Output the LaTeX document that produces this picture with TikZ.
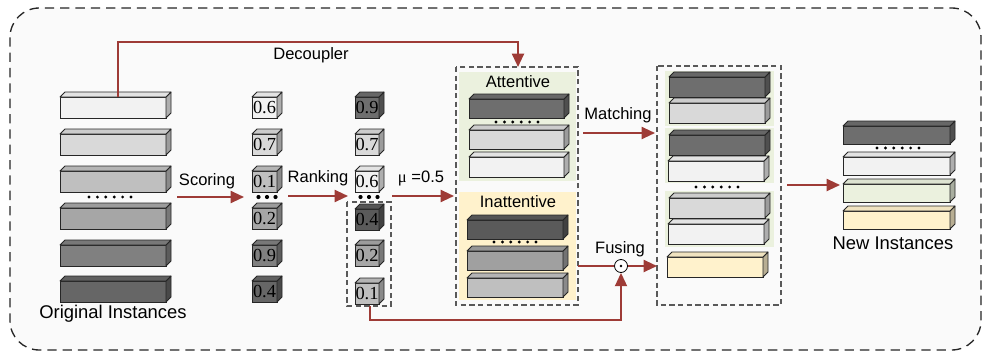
\documentclass[tikz,border=0pt]{standalone}
\usepackage{fontspec}
\setmainfont{Liberation Sans}
\newfontfamily\numfont{Liberation Serif}
\usetikzlibrary{arrows.meta}
\definecolor{arr}{RGB}{158,59,54}
\definecolor{gA}{HTML}{F2F2F2}
\definecolor{gB}{HTML}{D9D9D9}
\definecolor{gC}{HTML}{BFBFBF}
\definecolor{gD}{HTML}{A6A6A6}
\definecolor{gE}{HTML}{808080}
\definecolor{gF}{HTML}{666666}
\definecolor{gG}{HTML}{6E6E6E}
\definecolor{gH}{HTML}{5A5A5A}
\definecolor{gI}{HTML}{A0A0A0}
\definecolor{grn}{HTML}{EBF1DE}
\definecolor{ylw}{HTML}{FFF2CC}
\definecolor{bgc}{HTML}{FAFAFA}
\tikzset{
  slabst/.style={draw=black!85, line width=0.6pt, inner sep=0pt, outer sep=0pt, anchor=north west},
  face/.style={draw=black!85, line width=0.6pt, line join=round},
  flow/.style={draw=arr, line width=1.5pt, -{Triangle[length=10pt,width=9pt]}},
  plain/.style={draw=arr, line width=1.5pt},
  lbl/.style={font=\fontsize{12.4}{14}\selectfont, inner sep=0pt},
  biglbl/.style={font=\fontsize{13.8}{16}\selectfont, inner sep=0pt},
  grpbox/.style={draw=black!65, dash pattern=on 4pt off 2.5pt, line width=0.8pt},
  dotst/.style={fill=black},
}
% name, x, y, w, h, color, text
\newcommand\slab[7]{%
  \node[slabst, fill=#6, minimum width=#4*0.75pt, minimum height=#5*0.75pt,
        font=\numfont\fontsize{13.8}{14}\selectfont] (#1) at (#2,#3) {#7};
  \filldraw[face, fill=#6!72!black] (#1.north east) -- ++(5,-5) -- ++(0,#5) -- ++(-5,5) -- cycle;
  \filldraw[face, fill=#6!94!black] (#1.north west) -- ++(5,-5) -- ++(#4,0) -- (#1.north east) -- cycle;
}
% six small dots centred at x, y
\newcommand\sixdots[2]{%
  \foreach \k in {-2.5,-1.5,-0.5,0.5,1.5,2.5} {\fill[dotst] (#1+\k*8.4,#2) circle (1.6);}
}
\newcommand\threedots[2]{%
  \foreach \k in {-1,0,1} {\fill[dotst] (#1+\k*8.5,#2) circle (2.1);}
}
\begin{document}
\begin{tikzpicture}[x=0.75pt,y=-0.75pt]
\useasboundingbox (0,0) rectangle (984,353);
% outer frame
\draw[fill=bgc, draw=black!85, line width=1pt, dash pattern=on 7pt off 4.5pt, rounded corners=22pt]
  (10,8) rectangle (981,350);

% original instances
\slab{o1}{60}{97}{106}{21}{gA}{}
\slab{o2}{60}{134}{106}{21}{gB}{}
\slab{o3}{60}{171}{106}{21}{gC}{}
\slab{o4}{60}{208}{106}{21}{gD}{}
\slab{o5}{60}{245}{106}{21}{gE}{}
\slab{o6}{60}{281}{106}{21}{gF}{}
\sixdots{110}{197}
\node[biglbl] (origlbl) at (113,314) {Original Instances};

% scores column 1
\slab{s1}{252}{97}{25}{21}{gA}{0.6}
\slab{s2}{252}{134}{25}{21}{gB}{0.7}
\slab{s3}{252}{171}{25}{21}{gC}{0.1}
\slab{s4}{252}{208}{25}{21}{gD}{0.2}
\slab{s5}{252}{245}{25}{21}{gE}{0.9}
\slab{s6}{252}{281}{25}{21}{gF}{0.4}
\threedots{267}{197}

% scores column 2 (ranked)
\slab{r1}{355}{97}{24}{21}{gG}{0.9}
\slab{r2}{355}{134}{24}{21}{gB}{0.7}
\slab{r3}{355}{171}{24}{21}{gA}{0.6}
\slab{r4}{355}{209}{24}{21}{gH}{0.4}
\slab{r5}{355}{245}{24}{21}{gD}{0.2}
\slab{r6}{355}{283}{24}{21}{gC}{0.1}
\threedots{369}{197}
\draw[grpbox] (347,202) rectangle (391,306);
\coordinate (lowgrp) at (370,306);

% attentive / inattentive group
\draw[grpbox] (456,67) rectangle (578,305);
\coordinate (attTop) at (518,67);
\fill[grn] (459,72) rectangle (576,181);
\fill[ylw] (459,192) rectangle (576,300);
\node[lbl] (attlbl) at (518,82) {Attentive};
\slab{a1}{469}{99}{95}{19}{gG}{}
\sixdots{517}{122}
\slab{a2}{469}{130}{95}{19}{gB}{}
\slab{a3}{469}{157}{95}{20}{gA}{}
\node[lbl] (inattlbl) at (518,202) {Inattentive};
\slab{i1}{467}{220}{96}{19}{gH}{}
\sixdots{515}{242}
\slab{i2}{467}{251}{96}{19}{gI}{}
\slab{i3}{467}{278}{96}{19}{gC}{}

% matched group
\draw[grpbox] (657,66) rectangle (781,305);
\fill[grn] (665,71) rectangle (774,126);
\fill[grn] (665,128) rectangle (774,183);
\fill[grn] (665,191) rectangle (774,247);
\slab{m1}{669}{77}{96}{20}{gG}{}
\slab{m2}{669}{103}{96}{20}{gB}{}
\slab{m3}{669}{135}{96}{20}{gG}{}
\slab{m4}{668}{161}{96}{20}{gA}{}
\sixdots{717}{187}
\slab{m5}{669}{198}{96}{20}{gB}{}
\slab{m6}{668}{224}{96}{20}{gA}{}
\slab{m7}{667}{257}{96}{20}{ylw}{}

% new instances
\slab{n1}{843}{126}{107}{18}{gG}{}
\sixdots{898}{148}
\slab{n2}{843}{157}{107}{18}{gA}{}
\slab{n3}{843}{184}{107}{18}{grn}{}
\slab{n4}{843}{211}{107}{18}{ylw}{}
\node[biglbl] (newlbl) at (893,243) {New Instances};

% connectors
\coordinate (scA) at (177,197);
\coordinate (scB) at (244,197);
\draw[flow] (scA) -- (scB);
\node[lbl] (scl) at (207,181) {Scoring};

\coordinate (rkA) at (288,196);
\coordinate (rkB) at (348,196);
\draw[flow] (rkA) -- (rkB);
\node[lbl] (rkl) at (318,178) {Ranking};

\coordinate (muA) at (392,196);
\coordinate (muB) at (454,196);
\draw[flow] (muA) -- (muB);
\node[lbl] (mul) at (421,178) {{\numfont μ} =0.5};

\draw[flow] (o1.north -| 118,0) |- (318,42) -| (attTop);
\node[lbl] (decl) at (311,55) {Decoupler};

\coordinate (mtA) at (583,133);
\coordinate (mtB) at (655,133);
\draw[flow] (mtA) -- (mtB);
\node[lbl] (mtl) at (618,115) {Matching};

\node[circle, draw=black, fill=white, line width=0.6pt, minimum size=13*0.75pt, inner sep=0pt] (fuse) at (621,266) {};
\fill (fuse.center) circle (1.3);
\coordinate (fuA) at (578,266);
\coordinate (fuB) at (657,266);
\draw[plain] (fuA) -- (fuse.west);
\draw[flow] (fuse.east) -- (fuB);
\node[lbl] (ful) at (620,249) {Fusing};
\draw[flow] (lowgrp) |- (500,320) -| (fuse.south);

\coordinate (nwA) at (787,185);
\coordinate (nwB) at (840,185);
\draw[flow] (nwA) -- (nwB);
\end{tikzpicture}
\end{document}
